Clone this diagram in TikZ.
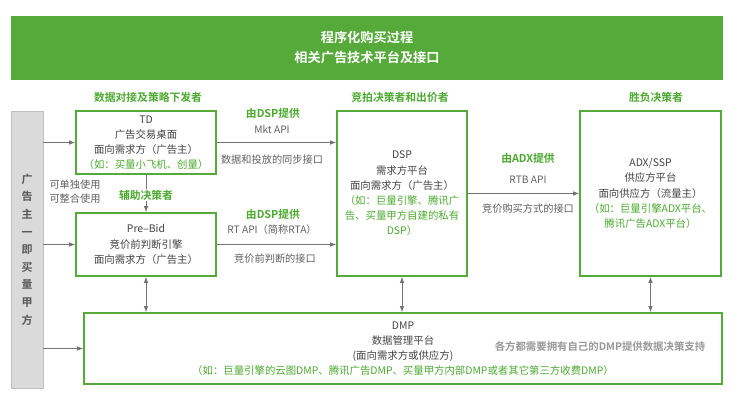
\documentclass[tikz,border=0pt]{standalone}
\usepackage{fontspec}
\setmainfont{Noto Sans CJK SC}[BoldFont={Noto Sans CJK SC Bold}]
\usetikzlibrary{arrows.meta,positioning}
\definecolor{adgreen}{HTML}{55AA3A}
\definecolor{labelgreen}{HTML}{4CAA30}
\definecolor{bargrey}{HTML}{DADADA}
\definecolor{txtgrey}{HTML}{444444}

\begin{document}
\begin{tikzpicture}[x=1pt, y=-1pt,
  font=\fontsize{10.4}{15.2}\selectfont, text=txtgrey,
  platform/.style={draw=adgreen, line width=1.6pt, fill=white, inner sep=0pt, align=center},
  role/.style={text=labelgreen, inner sep=1pt, font=\fontsize{10.8}{13}\selectfont\bfseries},
  note/.style={text=txtgrey!85, inner sep=1pt, font=\fontsize{10.2}{14}\selectfont},
  flow/.style={draw=black!55, line width=0.8pt, -{Latex[length=6pt,width=4.5pt]}},
  sync/.style={draw=black!55, line width=0.8pt, {Latex[length=6pt,width=4.5pt]}-{Latex[length=6pt,width=4.5pt]}}
]
\useasboundingbox (0,0) rectangle (740,403);
\node[fill=adgreen, minimum width=712pt, minimum height=64pt, inner sep=0pt, align=center, text=white,
  font=\fontsize{13.2}{20}\selectfont\bfseries] (title) at (367,48) {程序化购买过程\\相关广告技术平台及接口};

\node[role] (datarole) at (148,97) {数据对接及策略下发者};
\node[role] (bidrole) at (400,97) {竞拍决策者和出价者};
\node[role] (winrole) at (656,97) {胜负决策者};

\node[draw=black!25, fill=bargrey, minimum width=32pt, minimum height=277pt, inner sep=0pt, align=center,
  text=black!65, font=\fontsize{11}{17.6}\selectfont\bfseries] (buyer) at (27,249.5) {广\\告\\主\\一\\即\\买\\量\\甲\\方};

\node[platform, minimum width=140pt, minimum height=63pt] (td) at (146,142.5)
  {TD\\广告交易桌面\\面向需求方（广告主）\\\textcolor{labelgreen}{（如：买量小飞机、创量）}};
\node[platform, minimum width=140pt, minimum height=63pt] (pb) at (146,244.5)
  {Pre–Bid\\竞价前判断引擎\\面向需求方（广告主）};
\node[platform, minimum width=130pt, minimum height=165pt] (dsp) at (402,193.5)
  {DSP\\需求方平台\\面向需求方（广告主）\\\textcolor{labelgreen}{（如：巨量引擎、腾讯广}\\\textcolor{labelgreen}{告、买量甲方自建的私有}\\\textcolor{labelgreen}{DSP）}};
\node[platform, minimum width=141pt, minimum height=165pt] (adx) at (650.5,193.5)
  {ADX/SSP\\供应方平台\\面向供应方（流量主）\\\textcolor{labelgreen}{（如：巨量引擎ADX平台、}\\\textcolor{labelgreen}{腾讯广告ADX平台）}};
\node[platform, minimum width=638pt, minimum height=71pt] (dmp) at (403,348.5)
  {DMP\\数据管理平台\\(面向需求方或供应方)\\\textcolor{labelgreen}{（如：巨量引擎的云图DMP、腾讯广告DMP、买量甲方内部DMP或者其它第三方收费DMP）}};

\draw[flow] (buyer.east |- td.west) -- (td.west);
\draw[flow] (buyer.east |- pb.west) -- (pb.west);
\draw[flow] (buyer.east |- dmp.west) -- (dmp.west);
\draw[flow] (td.east) -- (td.east -| dsp.west);
\draw[flow] (pb.east) -- (pb.east -| dsp.west);
\draw[flow] (dsp.east) -- (adx.west);
\draw[flow] (td.south) -- (pb.north);
\draw[sync] (pb.south) -- (pb.south |- dmp.north);
\draw[sync] (dsp.south) -- (dsp.south |- dmp.north);
\draw[sync] (adx.south) -- (adx.south |- dmp.north);

\node[role, fill=white] (assist) at (146,195) {辅助决策者};
\node[note, align=left] (usage) at (75,192) {可单独使用\\可整合使用};
\node[role] (mktby) at (273,113) {由DSP提供};
\node[note] (mktapi) at (272,130) {Mkt API};
\node[note] (mktsync) at (272,160) {数据和投放的同步接口};
\node[role] (rtaby) at (273,214) {由DSP提供};
\node[note] (rtaapi) at (272,230) {RT API（简称RTA）};
\node[note] (rtajudge) at (275,259) {竞价前判断的接口};
\node[role] (rtbby) at (528,158) {由ADX提供};
\node[note] (rtbapi) at (528,180) {RTB API};
\node[note] (rtbbuy) at (528,209) {竞价购买方式的接口};
\node[text=black!40, font=\fontsize{10.4}{13}\selectfont\bfseries] (dmpnote) at (600,347) {各方都需要拥有自己的DMP提供数据决策支持};
\end{tikzpicture}
\end{document}
